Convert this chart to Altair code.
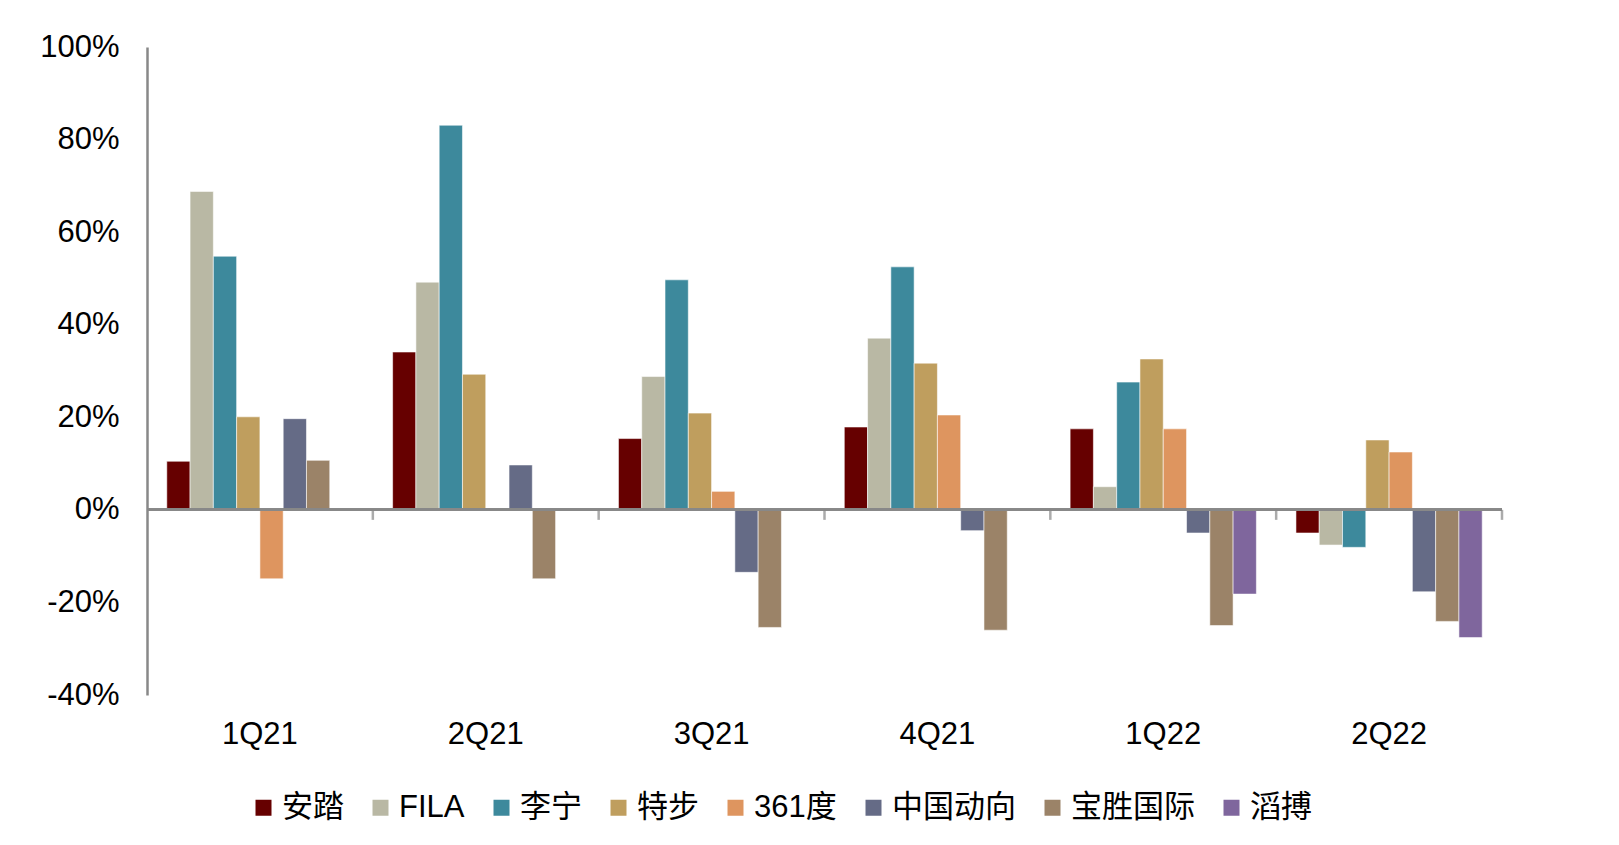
import altair as alt
import pandas as pd

quarters = ["1Q21", "2Q21", "3Q21", "4Q21", "1Q22", "2Q22"]
series = ["安踏", "FILA", "李宁", "特步", "361度", "中国动向", "宝胜国际", "滔搏"]
colors = ["#660000", "#B9B8A4", "#3D899C", "#BF9E5E", "#DE955F", "#656B86", "#9B8368", "#7F669D"]

anta = [10.5, 34.1, 15.4, 17.9, 17.5, -5.0]
fila = [68.8, 49.2, 28.8, 37.1, 5.0, -7.6]
lining = [54.8, 83.1, 49.7, 52.5, 27.6, -8.1]
xtep = [20.1, 29.3, 20.9, 31.7, 32.6, 15.1]
s361 = [-14.9, None, 4.0, 20.5, 17.5, 12.5]
dongxiang = [19.7, 9.7, -13.5, -4.5, -5.0, -17.7]
baosheng = [10.7, -14.9, -25.4, -26.0, -25.0, -24.1]
topsports = [None, None, None, None, -18.2, -27.6]

values = [anta, fila, lining, xtep, s361, dongxiang, baosheng, topsports]
rows = []
for name, vals in zip(series, values):
    for q, v in zip(quarters, vals):
        if v is not None:
            rows.append({"quarter": q, "series": name, "value": v / 100.0})
df = pd.DataFrame(rows)
qdf = pd.DataFrame({"quarter": quarters})

FONT = "Liberation Sans, Arial, Noto Sans CJK SC"
FS = 31
GRAY = "#888888"

x_scale = alt.Scale(domain=quarters, paddingInner=0, paddingOuter=0)

y_enc = alt.Y(
    "value:Q",
    scale=alt.Scale(domain=[-0.4, 1.0], nice=False, zero=False),
    axis=alt.Axis(
        format=".0%", values=[-0.4, -0.2, 0, 0.2, 0.4, 0.6, 0.8, 1.0],
        labelExpr="replace(datum.label, '\u2212', '-')",
        grid=False, ticks=False, tickSize=0, domain=True,
        domainColor=GRAY, domainWidth=2.5, labelPadding=28,
        labelFontSize=FS, labelFont=FONT, labelColor="#000000", title=None,
    ),
)
xoff = alt.XOffset(
    "series:N",
    sort=series,
    scale=alt.Scale(domain=series, paddingInner=0, paddingOuter=0.85),
)
color = alt.Color(
    "series:N",
    sort=series,
    scale=alt.Scale(domain=series, range=colors),
    legend=alt.Legend(
        title=None, orient="none", direction="horizontal",
        legendX=101, legendY=745, symbolType="square", symbolSize=256,
        symbolStrokeWidth=0, labelFontSize=FS, labelFont=FONT,
        labelColor="#000000", labelOffset=3, columnPadding=21, padding=0,
    ),
)

bars = alt.Chart(df).mark_bar(stroke="white", strokeWidth=0.8, strokeOpacity=0.7).encode(
    x=alt.X(
        "quarter:N", sort=quarters, scale=x_scale,
        axis=alt.Axis(
            title=None, domain=False, ticks=False, tickSize=0, labelAngle=0,
            labelFontSize=FS, labelFont=FONT, labelColor="#000000", labelPadding=24,
        ),
    ),
    xOffset=xoff,
    y=y_enc,
    color=color,
)

zero_line = alt.Chart(qdf).mark_rule(color=GRAY, strokeWidth=2.5).encode(
    y=alt.YDatum(0, title=None),
)

ticks = alt.Chart(qdf).mark_tick(
    color=GRAY, orient="vertical", size=10, thickness=2.5, yOffset=5
).encode(
    x=alt.X("quarter:N", sort=quarters, scale=x_scale, bandPosition=1, title=None),
    y=alt.YDatum(0, title=None),
)

chart = (
    alt.layer(bars, zero_line, ticks)
    .properties(
        width=1355, height=648,
        background="white",
        autosize=alt.AutoSizeParams(type="none"),
        padding={"left": 139, "top": 39, "right": 100, "bottom": 140},
    )
    .configure_view(stroke=None, strokeWidth=0)
)

chart.save("out.html", embed_options={"renderer": "svg", "actions": False})
